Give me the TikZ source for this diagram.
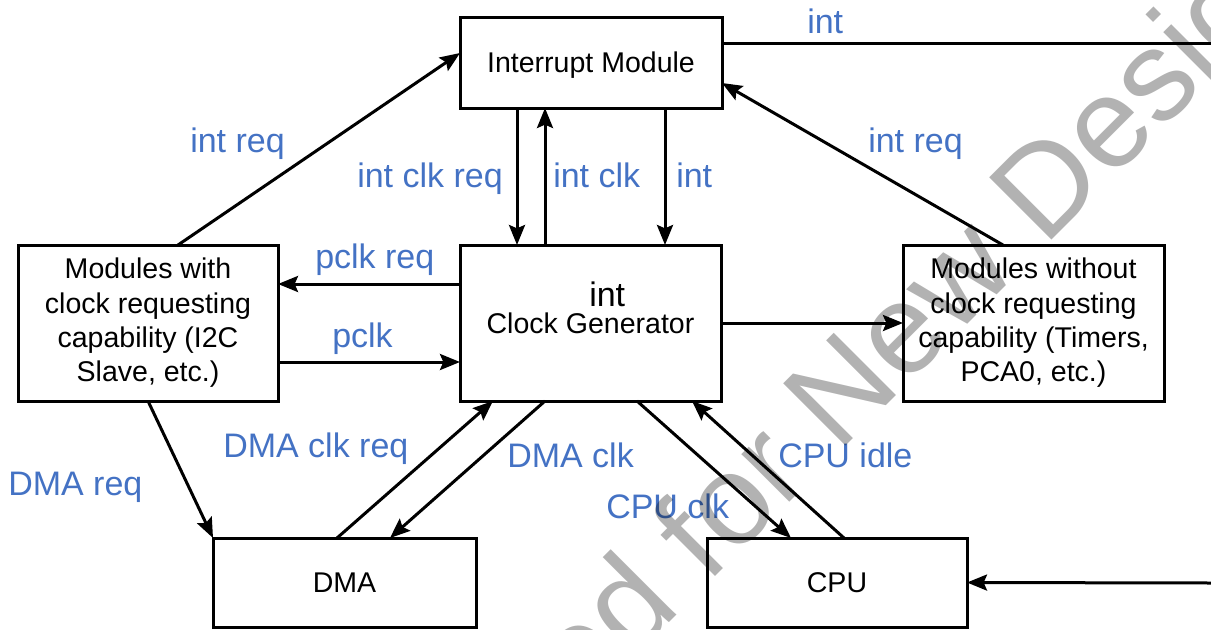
\documentclass[tikz,border=0pt]{standalone}
\usepackage{fontspec}
\setmainfont{Liberation Sans}
\usetikzlibrary{arrows.meta,calc}
\definecolor{lblblue}{HTML}{4472C4}
\begin{document}
\begin{tikzpicture}[x=0.75pt,y=-0.75pt,
  box/.style={draw,line width=2.25pt,rectangle,inner sep=0pt,outer sep=0pt,align=center,
    font=\fontsize{21.4}{25.7}\selectfont},
  conn/.style={line width=2.25pt,-{Stealth[length=15pt,width=12pt,inset=2.5pt]}},
  plainline/.style={line width=2.25pt},
  lbl/.style={text=lblblue,font=\fontsize{25.5}{30}\selectfont,inner sep=0pt,anchor=base west},
  blk/.style={text=black,font=\fontsize{25.5}{30}\selectfont,inner sep=0pt,anchor=base west},
  wm/.style={text=black,text opacity=0.3,font=\fontsize{96}{110}\selectfont,inner sep=0pt,anchor=base west,rotate=45}
]
\useasboundingbox (0,0) rectangle (1211,629);
\clip (0,0) rectangle (1211,629);

% boxes
\node[box,text depth=0pt,minimum width=196.5pt,minimum height=68.25pt] (intm) at (591,62.5) {Interrupt Module};
\node[box,minimum width=195.75pt,minimum height=117pt] (clk) at (590.5,323) {Clock Generator};
\node[box,minimum width=195pt,minimum height=117pt] (mwith) at (148,323)
  {Modules with\\clock requesting\\capability (I2C\\Slave, etc.)};
\node[box,minimum width=195.75pt,minimum height=117pt] (mwo) at (1033.5,323)
  {Modules without\\clock requesting\\capability (Timers,\\PCA0, etc.)};
\node[box,minimum width=197.25pt,minimum height=66.75pt] (dma) at (344.5,582.5) {DMA};
\node[box,minimum width=195pt,minimum height=66.75pt] (cpu) at (837,582.5) {CPU};
\node[blk] (clkint) at (589,306) {int};

% free ends
\coordinate (exitR) at (1211,43);
\coordinate (inR) at (1211,583);

% connectors
\draw[conn] ([shift={(160,0)}]mwith.north west) -- ([shift={(0,36)}]intm.north west);
\draw[conn] ([shift={(100,0)}]mwo.north west) -- ([shift={(0,66)}]intm.north east);
\draw[plainline] ([shift={(0,26)}]intm.north east) -- (exitR);
\draw[conn] ([shift={(57,0)}]intm.south west) -- ([shift={(57,0)}]clk.north west);
\draw[conn] ([shift={(85,0)}]clk.north west) -- ([shift={(85,0)}]intm.south west);
\draw[conn] ([shift={(205,0)}]intm.south west) -- ([shift={(205,0)}]clk.north west);
\draw[conn] ([shift={(0,39)}]clk.north west) -- ([shift={(0,39)}]mwith.north east);
\draw[conn] ([shift={(0,-39)}]mwith.south east) -- ([shift={(0,-39)}]clk.south west);
\draw[conn] (clk.east) -- (mwo.west);
\draw[conn] ([shift={(130,0)}]mwith.south west) -- (dma.north west);
\draw[conn] ([shift={(124,0)}]dma.north west) -- ([shift={(33,0)}]clk.south west);
\draw[conn] ([shift={(85,0)}]clk.south west) -- ([shift={(177,0)}]dma.north west);
\draw[conn] ([shift={(177,0)}]clk.south west) -- ([shift={(84,0)}]cpu.north west);
\draw[conn] ([shift={(137,0)}]cpu.north west) -- ([shift={(232,0)}]clk.south west);
\draw[conn] (inR) -- (cpu.east);

% labels
\node[lbl] (lintTop) at (807,33) {int};
\node[lbl] (lintreqL) at (190,152) {int req};
\node[lbl] (lintclkreq) at (357,187) {int clk req};
\node[lbl] (lintclk) at (553,187) {int clk};
\node[lbl] (lint2) at (676,187) {int};
\node[lbl] (lintreqR) at (868,152) {int req};
\node[lbl] (lpclkreq) at (315,268) {pclk req};
\node[lbl] (lpclk) at (332,347) {pclk};
\node[lbl] (ldmareq) at (8,495) {DMA req};
\node[lbl] (ldmaclkreq) at (223,457) {DMA clk req};
\node[lbl] (ldmaclk) at (507,467) {DMA clk};
\node[lbl] (lcpuidle) at (778,467) {CPU idle};
\node[lbl] (lcpuclk) at (606,518) {CPU clk};

% watermark
\node[wm] (wmark) at (-97,1389) {Not Recommended for New Designs};
\end{tikzpicture}
\end{document}
